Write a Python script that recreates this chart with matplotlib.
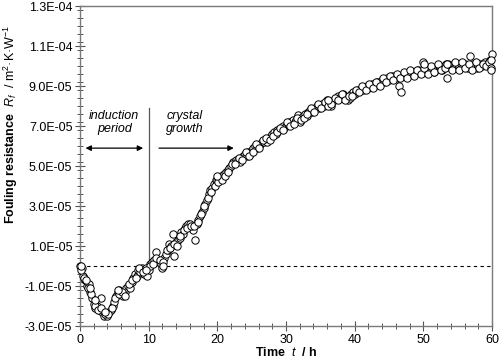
import matplotlib
matplotlib.use("Agg")
import matplotlib.pyplot as plt
from matplotlib.ticker import FuncFormatter, MultipleLocator

plt.rcParams["font.family"] = ["Liberation Sans", "DejaVu Sans"]
plt.rcParams["mathtext.fontset"] = "custom"
plt.rcParams["mathtext.rm"] = "Liberation Sans"
plt.rcParams["mathtext.it"] = "Liberation Sans:italic"
plt.rcParams["mathtext.bf"] = "Liberation Sans:bold"

# fouling resistance, in units of 1e-6 m2K/W
TIME_H = [
    0.0, 0.25, 0.5, 0.75, 1.0, 1.25, 1.5, 1.75, 2.0, 2.25, 2.5, 2.75,
    3.0, 3.25, 3.5, 3.75, 4.0, 4.25, 4.5, 4.75, 5.0, 5.25, 5.5, 5.75,
    6.0, 6.25, 6.5, 6.75, 7.0, 7.25, 7.5, 7.75, 8.0, 8.25, 8.5, 8.75,
    9.0, 9.25, 9.5, 9.75, 10.0, 10.25, 10.5, 10.75, 11.0, 11.25, 11.5, 11.75,
    12.0, 12.25, 12.5, 12.75, 13.0, 13.25, 13.5, 13.75, 14.0, 14.25, 14.5, 14.75,
    15.0, 15.25, 15.5, 15.75, 16.0, 16.25, 16.5, 16.75, 17.0, 17.25, 17.5, 17.75,
    18.0, 18.25, 18.5, 18.75, 19.0, 19.25, 19.5, 19.75, 20.0, 20.25, 20.5, 20.75,
    21.0, 21.25, 21.5, 21.75, 22.0, 22.25, 22.5, 22.75, 23.0, 23.25, 23.5, 23.75,
    24.0, 24.25, 24.5, 24.75, 25.0, 25.25, 25.5, 25.75, 26.0, 26.25, 26.5, 26.75,
    27.0, 27.25, 27.5, 27.75, 28.0, 28.25, 28.5, 28.75, 29.0, 29.25, 29.5, 29.75,
    30.0, 30.25, 30.5, 30.75, 31.0, 31.25, 31.5, 31.75, 32.0, 32.25, 32.5, 32.75,
    33.0, 33.25, 33.5, 33.75, 34.0, 34.25, 34.5, 34.75, 35.0, 35.25, 35.5, 35.75,
    36.0, 36.25, 36.5, 36.75, 37.0, 37.25, 37.5, 37.75, 38.0, 38.25, 38.5, 38.75,
    39.0, 39.25, 39.5, 39.75, 40.0, 40.25, 40.5, 40.75, 41.0, 41.25, 41.5, 41.75,
    42.0, 42.25, 42.5, 42.75, 43.0, 43.25, 43.5, 43.75, 44.0, 44.25, 44.5, 44.75,
    45.0, 45.25, 45.5, 45.75, 46.0, 46.25, 46.5, 46.75, 47.0, 47.25, 47.5, 47.75,
    48.0, 48.25, 48.5, 48.75, 49.0, 49.25, 49.5, 49.75, 50.0, 50.25, 50.5, 50.75,
    51.0, 51.25, 51.5, 51.75, 52.0, 52.25, 52.5, 52.75, 53.0, 53.25, 53.5, 53.75,
    54.0, 54.25, 54.5, 54.75, 55.0, 55.25, 55.5, 55.75, 56.0, 56.25, 56.5, 56.75,
    57.0, 57.25, 57.5, 57.75, 58.0, 58.25, 58.5, 58.75, 59.0, 59.25, 59.5, 59.75,
    60.0,
]
RF_E6 = [
    0, -1, -5, -7, -10, -9, -13, -16, -19, -21, -20, -22,
    -16, -23, -25, -24, -25, -23, -22, -20, -18, -15, -13, -12,
    -14, -15, -13, -11, -10, -11, -8, -6, -4, -5, -2, -3,
    -1, -4, -3, -5, -2, 1, 2, 3, 7, 3, 2, 1,
    -1, 4, 6, 8, 11, 10, 16, 5, 12, 13, 14, 17,
    16, 19, 20, 21, 21, 19, 18, 13, 21, 23, 25, 27,
    29, 31, 33, 36, 38, 39, 41, 43, 43, 44, 45, 44,
    46, 47, 48, 49, 50, 52, 52, 53, 53, 52, 54, 55,
    56, 55, 57, 56, 58, 59, 60, 59, 60, 61, 62, 62,
    63, 62, 64, 65, 66, 67, 66, 68, 68, 69, 70, 69,
    70, 71, 72, 71, 73, 72, 73, 75.5, 72, 74, 75, 76,
    75, 77, 78, 77, 78, 79, 80, 79, 80, 81, 80, 81,
    83, 81, 80, 82, 83, 84, 85, 84, 85, 86, 85, 84,
    83, 84, 86, 87, 86, 87, 88, 88, 89, 88, 89, 90,
    89, 90, 91, 90, 91, 92, 91, 92, 93, 92, 93, 94,
    93, 94, 95, 94, 95, 94, 90, 87, 95, 96, 95, 96,
    97, 96, 97, 96, 97, 98, 97, 98, 102, 98, 97, 98,
    99, 98, 97, 98, 99, 100, 99, 98, 100, 101, 94, 100,
    99, 100, 101, 100, 99, 100, 101, 100, 101, 100, 99, 105,
    100, 101, 100, 99, 100, 101, 100, 101, 102, 101, 100, 103,
    106,
]
# second set of readings taken between the ones above
TIME_B_H = [
    0.125, 0.625, 1.125, 1.625, 2.125, 2.625, 3.125, 3.625, 4.125, 4.625,
    5.125, 5.625, 6.125, 6.625, 7.125, 7.625, 8.125, 8.625, 9.125, 9.625,
    10.125, 10.625, 11.125, 11.625, 12.125, 12.625, 13.125, 13.625, 14.125, 14.625,
    15.125, 15.625, 16.125, 16.625, 17.125, 17.625, 18.125, 18.625, 19.125, 19.625,
    20.125, 20.625, 21.125, 21.625, 22.125, 22.625, 23.125, 23.625, 24.125, 24.625,
    25.125, 25.625, 26.125, 26.625, 27.125, 27.625, 28.125, 28.625, 29.125, 29.625,
    30.125, 30.625, 31.125, 31.625, 32.125, 32.625, 33.125, 33.625, 34.125, 34.625,
    35.125, 35.625, 36.125, 36.625, 37.125, 37.625, 38.125, 38.625, 39.125, 39.625,
    40.125, 40.625, 41.125, 41.625, 42.125, 42.625, 43.125, 43.625, 44.125, 44.625,
    45.125, 45.625, 46.125, 46.625, 47.125, 47.625, 48.125, 48.625, 49.125, 49.625,
    50.125, 50.625, 51.125, 51.625, 52.125, 52.625, 53.125, 53.625, 54.125, 54.625,
    55.125, 55.625, 56.125, 56.625, 57.125, 57.625, 58.125, 58.625, 59.125, 59.625,
]
RF_B_E6 = [
    -2, -6, -11, -14, -20, -22, -21, -24, -24, -21,
    -16, -14, -13, -15, -9, -7, -6, -1, -3, -1,
    0, 1, 4, 3, 2, 8, 9, 11, 10, 15,
    18, 19, 20, 20, 22, 26, 30, 34, 37, 40,
    42, 43, 45, 47, 51, 51, 54, 53, 57, 55,
    57, 61, 59, 63, 64, 63, 65, 67, 69, 68,
    72, 70, 71, 74, 73, 74, 76, 79, 77, 81,
    79, 82, 80, 81, 84, 83, 86, 83, 85, 85,
    88, 87, 90, 88, 91, 89, 92, 90, 94, 92,
    95, 93, 96, 94, 97, 94, 98, 95, 98, 96,
    99, 96, 100, 97, 101, 98, 99, 101, 98, 102,
    98, 102, 99, 101, 98, 102, 99, 101, 100, 102,
]
# a few extra points sitting off the main band
EXTRA_TIME_H = [0.1, 0.9, 1.4, 2.2, 3.6, 5.6, 9.6, 12.1, 19.9, 36.1, 50.1, 53.4, 59.9, 59.9, 59.8]
EXTRA_RF_E6 = [0, -7, -11, -17, -23, -12, -2, 0, 45, 83, 101, 101, 103, 99, 98]

fig = plt.figure(figsize=(5.0, 3.6), dpi=100)
ax = fig.add_axes([0.16, 0.094, 0.824, 0.889])

all_t = TIME_H + TIME_B_H + EXTRA_TIME_H
all_rf = [v * 1e-6 for v in RF_E6 + RF_B_E6 + EXTRA_RF_E6]
ax.scatter(
    all_t,
    all_rf,
    s=28,
    facecolors="white",
    edgecolors="black",
    linewidths=0.7,
    zorder=3,
    clip_on=False,
)

ax.axhline(0, color="black", lw=0.8, ls=(0, (3, 3)), zorder=1)
ax.plot([10, 10], [0, 7.9e-5], color="#555555", lw=0.9, zorder=2)

ax.annotate("", xy=(0.4, 5.9e-5), xytext=(9.6, 5.9e-5),
            arrowprops=dict(arrowstyle="<|-|>", color="black", lw=0.9, mutation_scale=8))
ax.annotate("", xy=(22.8, 5.9e-5), xytext=(11.1, 5.9e-5),
            arrowprops=dict(arrowstyle="-|>", color="black", lw=0.9, mutation_scale=8))
ax.text(5.0, 7.2e-5, "induction\nperiod", ha="center", va="center",
        style="italic", fontsize=9, linespacing=1.1)
ax.text(15.3, 7.2e-5, "crystal\ngrowth", ha="center", va="center",
        style="italic", fontsize=9, linespacing=1.1)

ax.set_xlim(0, 60)
ax.set_ylim(-3e-5, 1.3e-4)
ax.xaxis.set_major_locator(MultipleLocator(10))
ax.xaxis.set_minor_locator(MultipleLocator(2))
ax.set_yticks([-3e-5 + 2e-5 * i for i in range(9)])
ax.yaxis.set_minor_locator(MultipleLocator(4e-6))
ax.yaxis.set_major_formatter(FuncFormatter(lambda v, p: f"{v:.1E}"))

for side in ax.spines.values():
    side.set_color("#7a7a7a")
    side.set_linewidth(1.0)
ax.tick_params(which="major", direction="inout", length=7, width=0.8, color="#555555",
               labelsize=9, pad=2)
ax.tick_params(which="minor", direction="inout", length=4, width=0.7, color="#555555")
ax.tick_params(top=False, right=False, which="both")

fig.text(0.572, 0.022, r"$\mathbf{Time}$  $\mathbf{\mathit{t}}$  $\mathbf{/\ h}$",
         ha="center", va="center", fontsize=9)
fig.text(0.022, 0.655, r"$\mathbf{Fouling\ resistance}$  $R_f$  / m$^2$·K·W$^{-1}$",
         ha="center", va="center", rotation=90, fontsize=9)

fig.savefig("out.png", dpi=100)
